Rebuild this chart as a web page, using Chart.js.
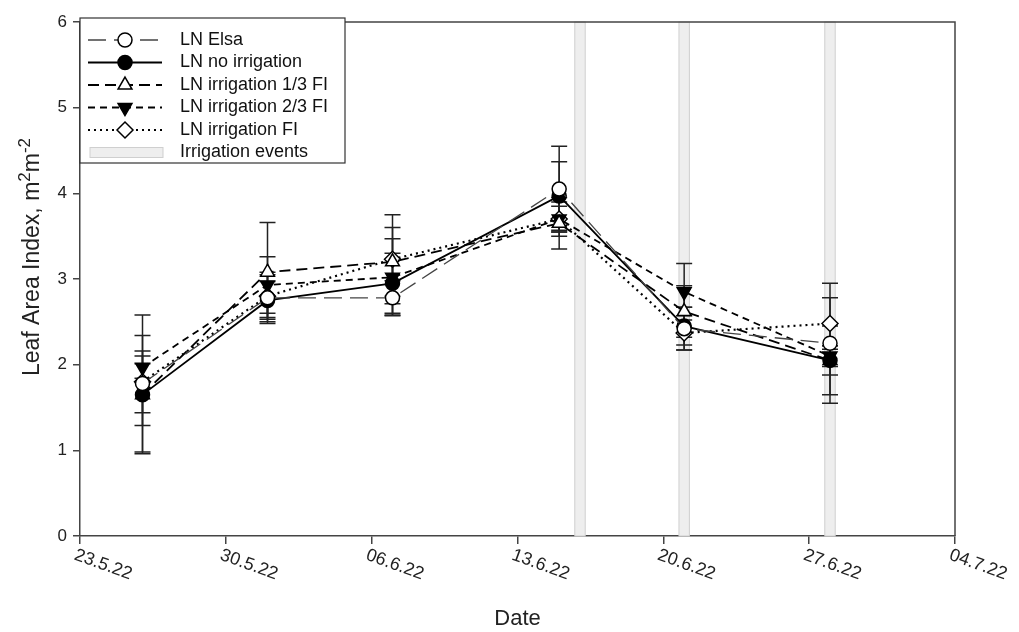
<!DOCTYPE html>
<html>
<head>
<meta charset="utf-8">
<script src="https://cdn.jsdelivr.net/npm/chart.js@4/dist/chart.umd.min.js"></script>
<style>
    html, body { margin: 0; padding: 0; background: #fff; }
    #wrap { width: 1019px; height: 632px; }
</style>
</head>
<body>
<div id="wrap"><canvas id="laiChart" width="1019" height="632"></canvas></div>
<script>
// Days since 23.5.22 for each sampling date
const sampleDays = [3, 9, 15, 23, 29, 36];

// Tick labels on the date axis (every 7 days from 23.5.22)
const dateTicks = ['23.5.22', '30.5.22', '06.6.22', '13.6.22', '20.6.22', '27.6.22', '04.7.22'];

// Irrigation events (days since 23.5.22)
const irrigationDays = [24, 29, 36];

// Leaf area index per treatment
const elsa = [1.78, 2.78, 2.78, 4.05, 2.42, 2.25];
const noIrrigation = [1.65, 2.75, 2.95, 3.97, 2.45, 2.05];
const irr13 = [1.65, 3.08, 3.20, 3.65, 2.62, 2.05];
const irr23 = [1.97, 2.93, 3.02, 3.70, 2.85, 2.10];
const irrFull = [1.80, 2.80, 3.23, 3.70, 2.37, 2.48];

// Error bar half-lengths
const elsaErr = [0.80, 0.30, 0.20, 0.50, 0.25, 0.70];
const noIrrigationErr = [0.36, 0.22, 0.35, 0.40, 0.22, 0.17];
const irr13Err = [0.69, 0.58, 0.40, 0.30, 0.30, 0.40];
const irr23Err = [0.13, 0.33, 0.45, 0.20, 0.33, 0.12];
const irrFullErr = [0.36, 0.25, 0.52, 0.15, 0.20, 0.30];

const FONT = '"Liberation Sans", Arial, sans-serif';

function toPoints(values) {
    return values.map(function(v, i) { return { x: sampleDays[i], y: v }; });
}

const series = [
    { label: 'LN Elsa', data: elsa, err: elsaErr, dash: [18, 8], width: 1.3, color: '#444',
      style: 'circle', rotation: 0, fill: '#fff', radius: 7 },
    { label: 'LN no irrigation', data: noIrrigation, err: noIrrigationErr, dash: [], width: 1.8, color: '#000',
      style: 'circle', rotation: 0, fill: '#000', radius: 7 },
    { label: 'LN irrigation 1/3 FI', data: irr13, err: irr13Err, dash: [11, 6], width: 1.8, color: '#000',
      style: 'triangle', rotation: 0, fill: '#fff', radius: 8 },
    { label: 'LN irrigation 2/3 FI', data: irr23, err: irr23Err, dash: [7, 5], width: 1.8, color: '#000',
      style: 'triangle', rotation: 180, fill: '#000', radius: 8 },
    { label: 'LN irrigation FI', data: irrFull, err: irrFullErr, dash: [2, 4], width: 2.2, color: '#000',
      style: 'rectRot', rotation: 0, fill: '#fff', radius: 8 }
];

// Shaded irrigation event columns
const irrigationPlugin = {
    id: 'irrigation',
    beforeDatasetsDraw(chart) {
        const { ctx, chartArea, scales } = chart;
        ctx.save();
        irrigationDays.forEach(function(d) {
            const x0 = scales.x.getPixelForValue(d - 0.25);
            const x1 = scales.x.getPixelForValue(d + 0.25);
            ctx.fillStyle = '#eeeeee';
            ctx.fillRect(x0, chartArea.top, x1 - x0, chartArea.bottom - chartArea.top);
            ctx.strokeStyle = '#cfcfcf';
            ctx.lineWidth = 1;
            ctx.strokeRect(x0, chartArea.top, x1 - x0, chartArea.bottom - chartArea.top);
        });
        ctx.restore();
    }
};

// Vertical error bars with caps
const errorBarPlugin = {
    id: 'errorBars',
    beforeDatasetsDraw(chart) {
        const { ctx, scales } = chart;
        ctx.save();
        ctx.strokeStyle = '#222';
        ctx.lineWidth = 1.5;
        series.forEach(function(s) {
            s.data.forEach(function(v, i) {
                const x = scales.x.getPixelForValue(sampleDays[i]);
                const yTop = scales.y.getPixelForValue(v + s.err[i]);
                const yBot = scales.y.getPixelForValue(v - s.err[i]);
                ctx.beginPath();
                ctx.moveTo(x, yTop); ctx.lineTo(x, yBot);
                ctx.moveTo(x - 8, yTop); ctx.lineTo(x + 8, yTop);
                ctx.moveTo(x - 8, yBot); ctx.lineTo(x + 8, yBot);
                ctx.stroke();
            });
        });
        ctx.restore();
    }
};

function drawMarker(ctx, s, x, y) {
    ctx.save();
    ctx.setLineDash([]);
    ctx.lineWidth = 1.5;
    ctx.strokeStyle = '#000';
    ctx.fillStyle = s.fill;
    Chart.helpers.drawPoint(ctx, { pointStyle: s.style, rotation: s.rotation, radius: s.radius, borderWidth: 1.5 }, x, y);
    ctx.restore();
}

// Frame, legend, rotated date labels and the y title
const decorPlugin = {
    id: 'decor',
    afterDraw(chart) {
        const { ctx, chartArea, scales } = chart;
        ctx.save();

        // frame top/right
        ctx.strokeStyle = '#444';
        ctx.lineWidth = 1.5;
        ctx.beginPath();
        ctx.moveTo(chartArea.left, chartArea.top);
        ctx.lineTo(chartArea.right, chartArea.top);
        ctx.lineTo(chartArea.right, chartArea.bottom);
        ctx.stroke();

        // date labels, slanted downwards
        ctx.fillStyle = '#222';
        ctx.font = '18px ' + FONT;
        ctx.textAlign = 'left';
        ctx.textBaseline = 'top';
        dateTicks.forEach(function(lbl, i) {
            const x = scales.x.getPixelForValue(i * 7);
            ctx.save();
            ctx.translate(x - 2, chartArea.bottom + 10);
            ctx.rotate(20 * Math.PI / 180);
            ctx.fillText(lbl, 0, 0);
            ctx.restore();
        });

        // y title with superscripts
        ctx.save();
        ctx.translate(33, 257);
        ctx.rotate(-Math.PI / 2);
        ctx.textBaseline = 'middle';
        ctx.fillStyle = '#222';
        const parts = [['Leaf Area Index, m', 23, 0], ['2', 17, -8], ['m', 23, 0], ['-2', 17, -8]];
        let total = 0;
        parts.forEach(function(p) { ctx.font = p[1] + 'px ' + FONT; total += ctx.measureText(p[0]).width; });
        let cx = -total / 2;
        parts.forEach(function(p) {
            ctx.font = p[1] + 'px ' + FONT;
            ctx.textAlign = 'left';
            ctx.fillText(p[0], cx, p[2]);
            cx += ctx.measureText(p[0]).width;
        });
        ctx.restore();

        // legend box
        const lx = chartArea.left, ly = chartArea.top - 4, lw = 265, lh = 145;
        ctx.fillStyle = '#fff';
        ctx.fillRect(lx, ly, lw, lh);
        ctx.strokeStyle = '#333';
        ctx.lineWidth = 1.2;
        ctx.strokeRect(lx, ly, lw, lh);
        ctx.font = '18px ' + FONT;
        ctx.textAlign = 'left';
        ctx.textBaseline = 'middle';
        series.forEach(function(s, i) {
            const y = ly + 22 + i * 22.5;
            ctx.save();
            ctx.strokeStyle = s.color;
            ctx.lineWidth = s.width;
            ctx.setLineDash(s.dash);
            ctx.beginPath();
            ctx.moveTo(lx + 8, y);
            ctx.lineTo(lx + 82, y);
            ctx.stroke();
            ctx.restore();
            drawMarker(ctx, s, lx + 45, y);
            ctx.fillStyle = '#111';
            ctx.fillText(s.label, lx + 100, y);
        });
        const ry = ly + 22 + 5 * 22.5;
        ctx.fillStyle = '#eeeeee';
        ctx.fillRect(lx + 10, ry - 5, 73, 10);
        ctx.strokeStyle = '#cfcfcf';
        ctx.lineWidth = 1;
        ctx.strokeRect(lx + 10, ry - 5, 73, 10);
        ctx.fillStyle = '#111';
        ctx.fillText('Irrigation events', lx + 100, ry);

        ctx.restore();
    }
};

const datasets = series.map(function(s) {
    return {
        label: s.label,
        data: toPoints(s.data),
        borderColor: s.color,
        borderWidth: s.width,
        borderDash: s.dash,
        pointStyle: s.style,
        pointRotation: s.rotation,
        pointRadius: s.radius,
        pointBorderWidth: 1.5,
        pointBorderColor: '#000',
        pointBackgroundColor: s.fill,
        tension: 0
    };
});

new Chart(document.getElementById('laiChart'), {
    type: 'line',
    data: { datasets: datasets },
    options: {
        responsive: false,
        animation: false,
        layout: { padding: { top: 22, right: 64, left: 0, bottom: 0 } },
        plugins: {
            legend: { display: false },
            tooltip: { enabled: false }
        },
        scales: {
            x: {
                type: 'linear',
                min: 0,
                max: 42,
                ticks: { stepSize: 7, display: false },
                grid: { drawOnChartArea: false, drawTicks: true, tickLength: 8, color: '#444', lineWidth: 1.5 },
                border: { color: '#444', width: 1.5 },
                title: {
                    display: true,
                    text: 'Date',
                    color: '#222',
                    font: { family: FONT, size: 22 },
                    padding: { top: 0, bottom: 0 }
                },
                afterFit: function(scale) { scale.height = 96; }
            },
            y: {
                min: 0,
                max: 6,
                ticks: { stepSize: 1, color: '#222', font: { family: FONT, size: 17 }, padding: 6 },
                grid: { drawOnChartArea: false, drawTicks: true, tickLength: 7, color: '#444', lineWidth: 1.5 },
                border: { color: '#444', width: 1.5 },
                afterFit: function(scale) { scale.width = 80; }
            }
        }
    },
    plugins: [irrigationPlugin, errorBarPlugin, decorPlugin]
});
</script>
</body>
</html>
